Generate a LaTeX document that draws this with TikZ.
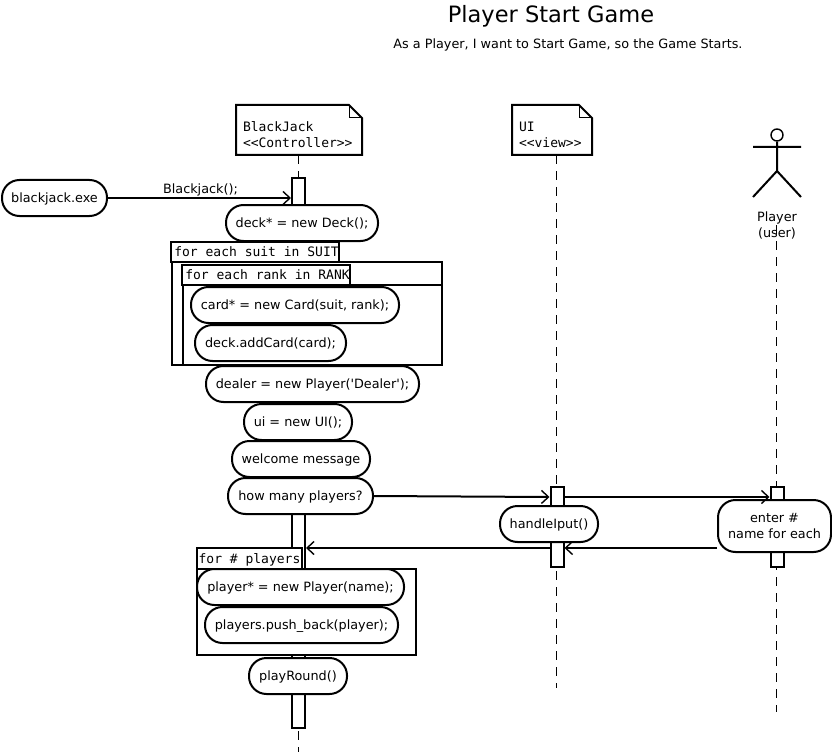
\documentclass[tikz,border=0pt]{standalone}
\usepackage{fontspec}
\setmainfont{DejaVu Sans}
\setmonofont{DejaVu Sans Mono}
\usetikzlibrary{arrows.meta,backgrounds,calc}

\begin{document}
\begin{tikzpicture}[x=1pt, y=-1pt, line width=2pt,
            font=\fontsize{12.8}{16}\selectfont,
            rbox/.style = {draw, fill=white, rounded corners=17.5pt, minimum height=36pt, inner sep=0pt, align=center, text height=12pt, text depth=3pt},
            note/.style = {inner sep=0pt, minimum height=48pt, align=left, font=\fontsize{13}{16}\selectfont\ttfamily},
             tab/.style = {draw, fill=white, inner sep=0pt, minimum height=20pt, text height=12pt, text depth=2.6pt, font=\fontsize{13}{16}\selectfont\ttfamily},
           frame/.style = {draw, fill=white, inner sep=0pt},
             bar/.style = {draw, fill=white, inner sep=0pt, minimum width=13pt},
            life/.style = {line width=1pt, dash pattern=on 9pt off 7pt},
            call/.style = {line width=2pt, -{Straight Barb[length=7pt,width=13pt,line width=1.4pt]}}]
        \useasboundingbox (0,0) rectangle (832,754);

        \node (title) at (551,16) {\fontsize{22.5}{26}\selectfont Player Start Game};
        \node (story) at (568,45) {As a Player, I want to Start Game, so the Game Starts.};

        % objects
        \node[note, minimum width=124pt, text width=112pt] (blackjack) at (299,130) {\rule{0pt}{20pt}BlackJack\\<{}<Controller>{}>};
        \node[note, minimum width=78pt, text width=66pt] (ui) at (552,130) {\rule{0pt}{20pt}UI\\<{}<view>{}>};
        \foreach \obj in {blackjack, ui} {
            \draw[line width=1pt] ($(\obj.north east)+(-13,0)$) -- ($(\obj.north east)+(-13,13)$) -- ($(\obj.north east)+(0,13)$);
            \draw (\obj.north west) -- ($(\obj.north east)+(-13,0)$) -- ($(\obj.north east)+(0,13)$) -- (\obj.south east) -- (\obj.south west) -- cycle;
        }

        % actor
        \node[draw, circle, minimum size=12pt, inner sep=0pt, line width=1.4pt] (head) at (777,135) {};
        \coordinate (hip) at (777,171);
        \draw (head) -- (hip) (753,147) -- (801,147) (753,197) -- (hip) -- (801,197);
        \node[align=center] (player) at (777,225) {Player\\(user)};

        % lifeline ends
        \coordinate (blackjackend) at (298,752);
        \coordinate (uiend) at (556,688);
        \coordinate (playerstart) at (776,225);
        \coordinate (playerend) at (776,712);
        \coordinate (prompt) at (0,497);
        \coordinate (reply) at (0,548);

        % activation bars
        \node[bar, minimum height=550pt] (blackjackbar) at (298.5,453) {};
        \node[bar, minimum height=80pt] (uibar) at (557,527) {};
        \node[bar, minimum height=80pt] (playerbar) at (777,527) {};

        % first loops
        \node[frame, minimum width=270pt, minimum height=103pt] (suitloop) at (307,313.5) {};
        \node[tab, minimum width=166pt] (suittab) at (255,252) {\hspace{3pt}for each suit in SUIT};
        \node[frame, minimum width=259pt, minimum height=80pt] (rankloop) at (312.5,325) {};
        \node[tab, minimum width=166pt] (ranktab) at (266,275) {\hspace{3pt}for each rank in RANK};

        % second loop
        \node[frame, minimum width=219pt, minimum height=86pt] (playerloop) at (306.5,612) {};
        \node[tab, minimum width=105pt, minimum height=21pt] (playertab) at (249.5,558.5) {for \# players};

        % steps
        \node[rbox, minimum width=105pt] (exe) at (54.5,198) {blackjack.exe};
        \node[rbox, minimum width=152pt] (deck) at (302,223) {deck* = new Deck();};
        \node[rbox, minimum width=208pt] (card) at (295,305) {card* = new Card(suit, rank);};
        \node[rbox, minimum width=151pt] (addcard) at (270.5,343) {deck.addCard(card);};
        \node[rbox, minimum width=213pt] (dealer) at (312.5,384) {dealer = new Player(\textquotesingle Dealer\textquotesingle);};
        \node[rbox, minimum width=108pt] (newui) at (298,422) {ui = new UI();};
        \node[rbox, minimum width=138pt] (welcome) at (301,459) {welcome message};
        \node[rbox, minimum width=145pt] (howmany) at (300.5,496) {how many players?};
        \node[rbox, minimum width=98pt] (handle) at (549,524) {handleIput()};
        \node[rbox, minimum width=113pt, minimum height=52pt, text height=, text depth=] (enter) at (774.5,526) {enter \#\\name for each};
        \node[rbox, minimum width=207pt] (newplayer) at (300.5,587) {player* = new Player(name);};
        \node[rbox, minimum width=193pt] (pushback) at (301.5,625) {players.push\_back(player);};
        \node[rbox, minimum width=98pt] (playround) at (298,676) {playRound()};

        \begin{scope}[on background layer]
            \draw[life] (blackjack.south -| blackjackend) -- (blackjackend);
            \draw[life] (ui.south -| uiend) -- (uiend);
            \draw[life] (playerstart) -- (playerend);
        \end{scope}

        % messages
        \draw[call] (exe) -- (exe -| blackjackbar.west) node[midway, above=-2pt, xshift=1pt] (ctor) {Blackjack();};
        \draw[call] (howmany.east) -- (prompt -| uibar.west);
        \draw[call] (prompt -| uibar.east) -- (prompt -| playerbar.west);
        \begin{scope}[on background layer]
            \draw[call] (enter.west |- reply) -- (reply -| uibar.east);
            \draw[call] (reply -| uibar.west) -- (reply -| blackjackbar.east);
        \end{scope}
    \end{tikzpicture}
\end{document}
